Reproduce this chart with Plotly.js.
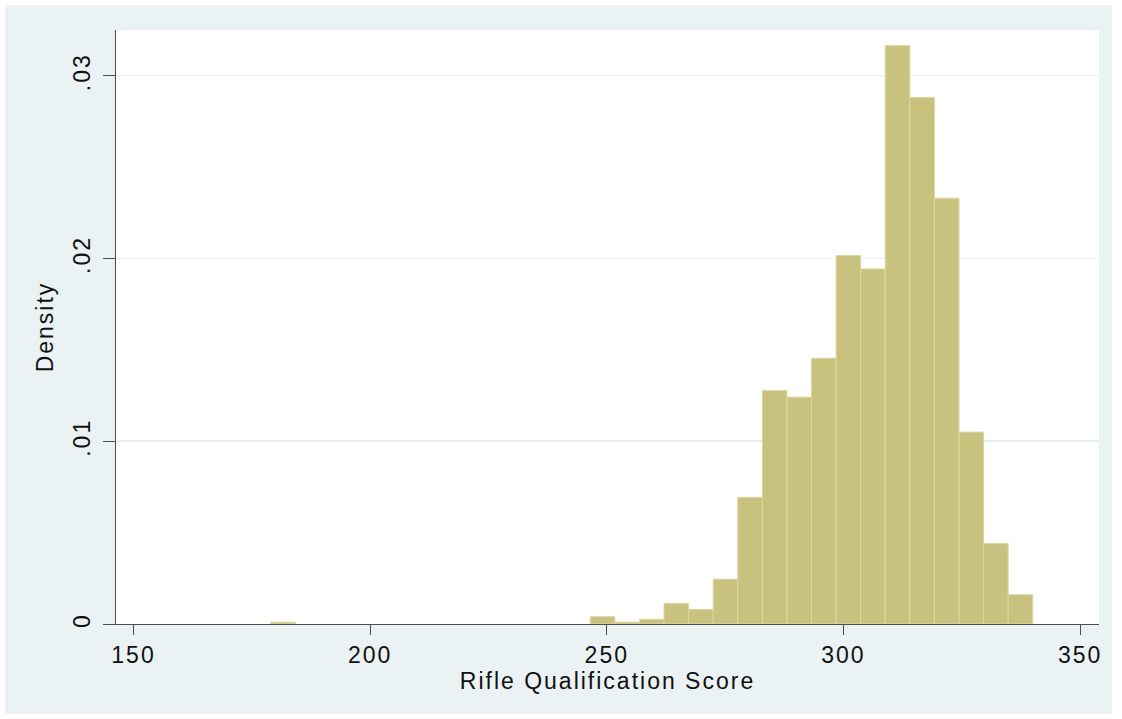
<!DOCTYPE html>
<html>
<head>
<meta charset="utf-8">
<script src="https://cdn.plot.ly/plotly-3.0.1.min.js"></script>
<style>
  html, body { margin: 0; padding: 0; background: #ffffff; width: 1122px; height: 719px; overflow: hidden; }
  #chart { position: absolute; left: 5px; top: 5px; width: 1107px; height: 709px; }
  #chart .xtick text, #chart .ytick text { letter-spacing: 2px; }
  #chart .xtitle, #chart .ytitle { letter-spacing: 2px; }
</style>
</head>
<body>
<div id="chart"></div>
<script>
// Histogram of rifle qualification scores (bin centres and densities)
const binWidth = 5.1935;
const binCenters = [181.60, 249.11, 254.31, 259.50, 264.69, 269.89, 275.08, 280.27, 285.47, 290.66,
                    295.85, 301.05, 306.24, 311.44, 316.63, 321.82, 327.02, 332.21, 337.40];
const densities  = [0.0001, 0.0004, 0.0001, 0.00026, 0.00113, 0.0008, 0.00245, 0.00693, 0.01277, 0.01241,
                    0.01454, 0.02016, 0.01943, 0.03164, 0.0288, 0.0233, 0.0105, 0.0044, 0.0016];

const xTickVals = [150, 200, 250, 300, 350];
const xTickText = ["150", "200", "250", "300", "350"];
const yTickVals = [0, 0.01, 0.02, 0.03];
const yTickText = ["0", ".01", ".02", ".03"];

const xTitle = "Rifle Qualification Score";
const yTitle = "Density";

const fontFamily = "'Liberation Sans', Arial, sans-serif";

const trace = {
  type: "bar",
  x: binCenters,
  y: densities,
  width: binCenters.map(() => binWidth),
  marker: { color: "#c8c27e", line: { color: "#dcd6a4", width: 1 } },
  hoverinfo: "x+y"
};

const layout = {
  width: 1107,
  height: 709,
  paper_bgcolor: "#eaf2f3",
  plot_bgcolor: "#ffffff",
  margin: { l: 111, r: 13, t: 25, b: 90 },
  showlegend: false,
  bargap: 0,
  font: { family: fontFamily, color: "#111111", size: 23 },
  xaxis: {
    range: [146.3, 354.0],
    tickmode: "array",
    tickvals: xTickVals,
    ticktext: xTickText,
    ticks: "outside",
    ticklen: 10,
    tickwidth: 1,
    tickcolor: "#4d4d4d",
    showline: true,
    linecolor: "#4d4d4d",
    linewidth: 1,
    showgrid: false,
    zeroline: false,
    tickfont: { size: 23 },
    title: { text: xTitle, font: { size: 23 }, standoff: 4 }
  },
  yaxis: {
    range: [0, 0.0325],
    tickmode: "array",
    tickvals: yTickVals,
    ticktext: yTickText,
    tickangle: -90,
    ticks: "outside",
    ticklen: 12,
    tickwidth: 1,
    tickcolor: "#4d4d4d",
    showline: true,
    linecolor: "#4d4d4d",
    linewidth: 1,
    showgrid: true,
    gridcolor: "#e6eef0",
    gridwidth: 1.5,
    zeroline: false,
    ticklabelstandoff: 4,
    tickfont: { size: 23 },
    title: { text: yTitle, font: { size: 23 }, standoff: 8 }
  }
};

Plotly.newPlot("chart", [trace], layout, { displayModeBar: false, staticPlot: true });
</script>
</body>
</html>
